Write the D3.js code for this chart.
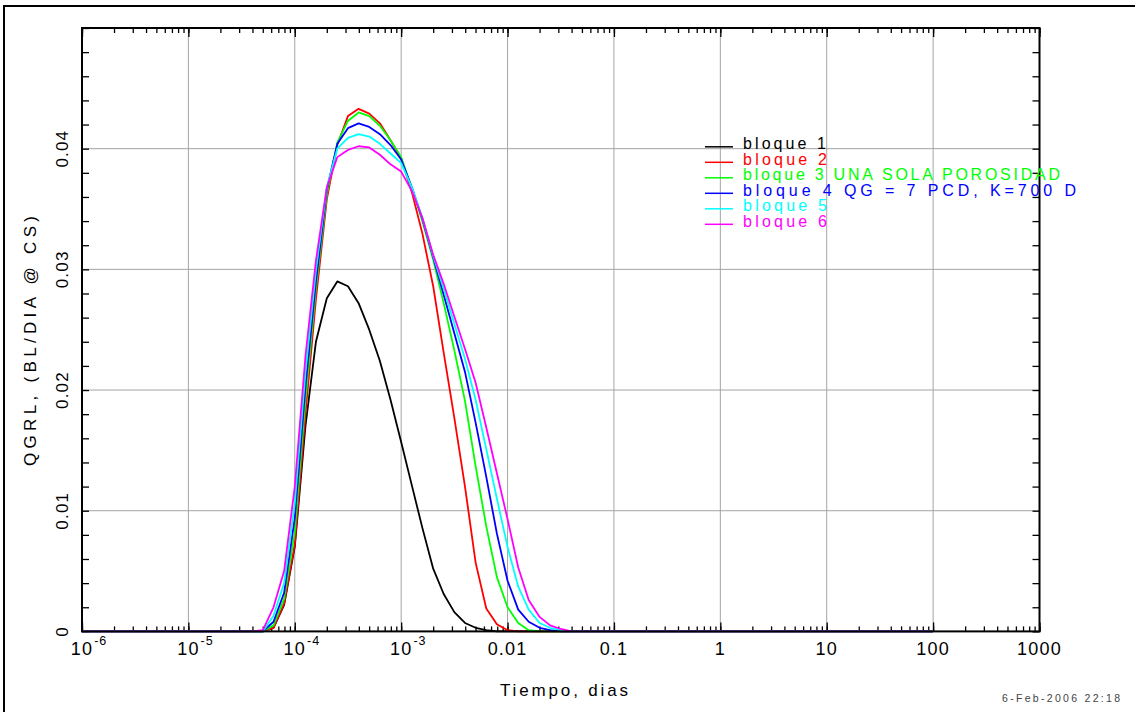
<!DOCTYPE html>
<html><head><meta charset="utf-8">
<script src="https://cdn.jsdelivr.net/npm/d3@7"></script>
<style>
body{margin:0;background:#fff;}
svg{display:block;}
text{font-family:"Liberation Sans",Arial,Helvetica,sans-serif;}
</style></head><body>
<svg id="chart" width="1135" height="712"></svg>
<script>
// ---------- data ----------
const times = [1e-6, 3.98e-5, 5.01e-5, 6.31e-5, 7.94e-5, 1e-4, 1.26e-4, 1.58e-4, 2.0e-4, 2.51e-4, 3.16e-4,
  3.98e-4, 5.01e-4, 6.31e-4, 7.94e-4, 1e-3, 1.26e-3, 1.58e-3, 2.0e-3, 2.51e-3, 3.16e-3,
  3.98e-3, 5.01e-3, 6.31e-3, 7.94e-3, 0.01, 0.0126, 0.0158, 0.02, 0.0251, 0.0316, 0.0398, 100];
const bloque1 = [0, 0, 0, 0.0003, 0.0022, 0.0070, 0.0170, 0.0240, 0.0276, 0.0290, 0.0286, 0.0272, 0.0250, 0.0224, 0.0192, 0.0157, 0.0121, 0.0086, 0.0052, 0.0031, 0.0016, 0.0007, 0.0003, 0.0001, 0, 0, 0, 0, 0, 0, 0, 0, 0];
const bloque2 = [0, 0, 0, 0.0003, 0.0023, 0.0072, 0.0180, 0.0275, 0.0358, 0.0403, 0.0427, 0.0433, 0.0429, 0.0421, 0.0407, 0.0392, 0.0364, 0.0330, 0.0286, 0.0231, 0.0177, 0.0120, 0.0057, 0.0019, 0.0006, 0.0001, 0, 0, 0, 0, 0, 0, 0];
const bloque3 = [0, 0, 0, 0.0005, 0.0027, 0.0082, 0.0192, 0.0284, 0.0362, 0.0405, 0.0423, 0.0430, 0.0427, 0.0419, 0.0407, 0.0393, 0.0367, 0.0340, 0.0308, 0.0272, 0.0233, 0.0191, 0.0137, 0.0087, 0.0045, 0.0020, 0.0007, 0.0001, 0, 0, 0, 0, 0];
const bloque4 = [0, 0, 0, 0.0008, 0.0032, 0.0094, 0.0203, 0.0290, 0.0366, 0.0404, 0.0417, 0.0421, 0.0418, 0.0412, 0.0403, 0.0391, 0.0368, 0.0342, 0.0310, 0.0279, 0.0247, 0.0215, 0.0173, 0.0128, 0.0081, 0.0042, 0.0018, 0.0008, 0.0003, 0.0001, 0, 0, 0];
const bloque5 = [0, 0, 0, 0.0013, 0.0040, 0.0106, 0.0215, 0.0299, 0.0368, 0.0400, 0.0409, 0.0412, 0.0410, 0.0404, 0.0396, 0.0388, 0.0368, 0.0343, 0.0311, 0.0284, 0.0255, 0.0226, 0.0192, 0.0151, 0.0110, 0.0070, 0.0037, 0.0018, 0.0007, 0.0003, 0.0001, 0, 0];
const bloque6 = [0, 0, 0.0001, 0.0020, 0.0050, 0.0120, 0.0228, 0.0307, 0.0368, 0.0393, 0.0399, 0.0402, 0.0401, 0.0395, 0.0387, 0.0381, 0.0365, 0.0343, 0.0312, 0.0288, 0.0261, 0.0234, 0.0206, 0.0169, 0.0131, 0.0093, 0.0053, 0.0026, 0.0012, 0.0005, 0.0002, 0, 0];

const seriesValues = [bloque1, bloque2, bloque3, bloque4, bloque5, bloque6];
const seriesColors = ["#000000", "#ff0000", "#00ff00", "#0000ff", "#00ffff", "#ff00ff"];
const legendLabels = ["bloque 1", "bloque 2", "bloque 3 UNA SOLA POROSIDAD", "bloque 4 QG = 7 PCD, K=700 D", "bloque 5", "bloque 6"];

const xTickValues = [1e-6, 1e-5, 1e-4, 1e-3, 0.01, 0.1, 1, 10, 100, 1000];
const xTickBase = ["10", "10", "10", "10", "0.01", "0.1", "1", "10", "100", "1000"];
const xTickExp = ["-6", "-5", "-4", "-3", "", "", "", "", "", ""];
const yTickValues = [0, 0.01, 0.02, 0.03, 0.04];
const yTickLabels = ["0", "0.01", "0.02", "0.03", "0.04"];
const xTitle = "Tiempo, dias";
const yTitle = "QGRL, (BL/DIA @ CS)";
const stamp = "6-Feb-2006 22:18";

// ---------- layout ----------
const L = 82, R = 1039.5, T = 28, B = 631.4;
const svg = d3.select("#chart");
const x = d3.scaleLog().domain([1e-6, 1000]).range([L, R]);
const y = d3.scaleLinear().domain([0, 0.05]).range([B, T]);

// outer border (left and top)
svg.append("path").attr("d", "M4,716 L4,6 L1140,6").attr("fill", "none").attr("stroke", "#000").attr("stroke-width", 2);

// grid
const grid = svg.append("g").attr("stroke", "#a4a4a4").attr("stroke-width", 1);
grid.selectAll("line.gx").data(xTickValues.slice(1, -1)).enter().append("line")
  .attr("x1", d => x(d)).attr("x2", d => x(d)).attr("y1", T).attr("y2", B);
grid.selectAll("line.gy").data(yTickValues.slice(1)).enter().append("line")
  .attr("x1", L).attr("x2", R).attr("y1", d => y(d)).attr("y2", d => y(d));

// ticks (inward on all four sides)
function styleAxis(g) { g.select(".domain").remove(); g.selectAll("line").attr("stroke", "#000").attr("stroke-width", 1.3); g.selectAll("text").remove(); }
const minorX = x.ticks();
const minorY = y.ticks(25);
svg.append("g").attr("transform", `translate(0,${B})`).call(d3.axisBottom(x).tickValues(minorX).tickSize(-5).tickFormat("")).call(styleAxis);
svg.append("g").attr("transform", `translate(0,${B})`).call(d3.axisBottom(x).tickValues(xTickValues).tickSize(-9).tickFormat("")).call(styleAxis);
svg.append("g").attr("transform", `translate(0,${T})`).call(d3.axisTop(x).tickValues(minorX).tickSize(-5).tickFormat("")).call(styleAxis);
svg.append("g").attr("transform", `translate(0,${T})`).call(d3.axisTop(x).tickValues(xTickValues).tickSize(-9).tickFormat("")).call(styleAxis);
svg.append("g").attr("transform", `translate(${L},0)`).call(d3.axisLeft(y).tickValues(minorY).tickSize(-7).tickFormat("")).call(styleAxis);
svg.append("g").attr("transform", `translate(${R},0)`).call(d3.axisRight(y).tickValues(minorY).tickSize(-7).tickFormat("")).call(styleAxis);

// series lines
const line = d3.line().x(d => x(d[0])).y(d => y(d[1]));
seriesValues.forEach((vals, i) => {
  svg.append("path")
    .datum(times.map((t, k) => [t, vals[k]]))
    .attr("d", line)
    .attr("fill", "none")
    .attr("stroke", seriesColors[i])
    .attr("stroke-width", 1.8)
    .attr("stroke-linejoin", "round");
});

// frame
svg.append("rect").attr("x", L).attr("y", T).attr("width", R - L).attr("height", B - T)
  .attr("fill", "none").attr("stroke", "#000").attr("stroke-width", 2);

// x tick labels
xTickValues.forEach((v, i) => {
  const g = svg.append("g");
  const base = g.append("text").attr("x", x(v)).attr("y", 655).attr("text-anchor", "middle")
    .attr("font-size", 18).attr("letter-spacing", 1.2).attr("fill", "#000").text(xTickBase[i]);
  if (xTickExp[i]) {
    const w = base.node().getComputedTextLength();
    g.append("text").attr("x", x(v) + w / 2 + 1).attr("y", 645).attr("font-size", 12.5)
      .attr("letter-spacing", 1).attr("fill", "#000").text(xTickExp[i]);
  }
});

// y tick labels
yTickValues.forEach((v, i) => {
  svg.append("text").attr("transform", `translate(68,${y(v)}) rotate(-90)`).attr("text-anchor", "middle")
    .attr("font-size", 17).attr("letter-spacing", 1.2).attr("fill", "#000").text(yTickLabels[i]);
});

// axis titles
svg.append("text").attr("x", 564).attr("y", 696).attr("text-anchor", "middle").attr("font-size", 17)
  .attr("textLength", 128).attr("lengthAdjust", "spacing").attr("fill", "#000").text(xTitle);
svg.append("text").attr("transform", "translate(36,341) rotate(-90)").attr("text-anchor", "middle").attr("font-size", 17)
  .attr("textLength", 250).attr("lengthAdjust", "spacing").attr("fill", "#000").text(yTitle);

// legend
const legendWidths = [83, 84, 317, 333, 84, 84];
legendLabels.forEach((lab, i) => {
  const by = 149.3 + i * 15.5;
  svg.append("line").attr("x1", 705).attr("x2", 733).attr("y1", by - 2.5).attr("y2", by - 2.5)
    .attr("stroke", seriesColors[i]).attr("stroke-width", 1.5);
  svg.append("text").attr("x", 743).attr("y", by).attr("font-size", 16)
    .attr("textLength", legendWidths[i]).attr("lengthAdjust", "spacing")
    .attr("fill", seriesColors[i]).text(lab);
});

// time stamp
svg.append("text").attr("x", 1002).attr("y", 702).attr("font-size", 10.5)
  .attr("textLength", 118).attr("lengthAdjust", "spacing").attr("fill", "#444").text(stamp);
</script>
</body></html>
